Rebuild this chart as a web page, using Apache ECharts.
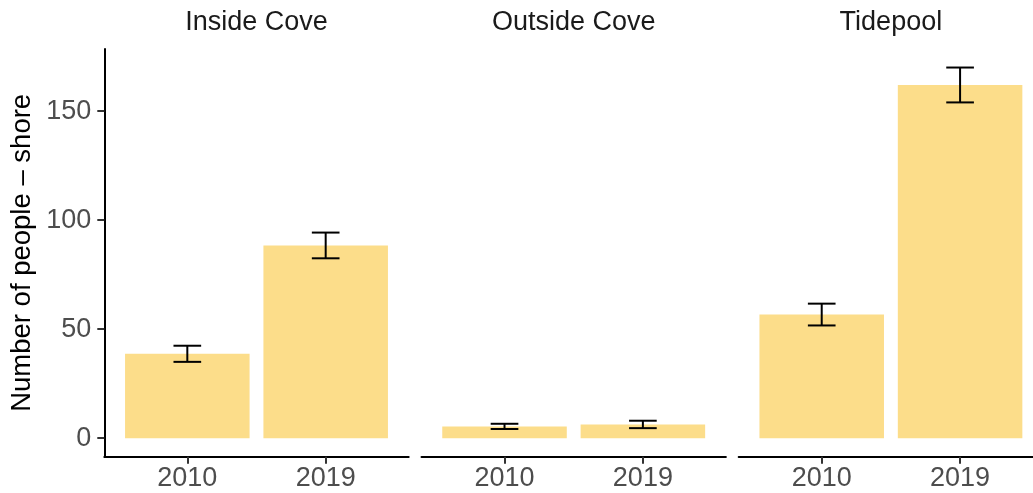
<!DOCTYPE html>
<html>
<head>
<meta charset="utf-8">
<script src="https://cdn.jsdelivr.net/npm/echarts@6/dist/echarts.min.js"></script>
<style>
  html, body { margin: 0; padding: 0; background: #fff; }
  #chart { width: 1033px; height: 493px; }
</style>
</head>
<body>
<div id="chart"></div>
<script>
// Facet panels and year categories
const sites = ['Inside Cove', 'Outside Cove', 'Tidepool'];
const years = ['2010', '2019'];

// Mean number of people on shore, with standard error, per site
const meanInsideCove = [38.7, 88.4];
const seInsideCove = [3.7, 5.9];
const meanOutsideCove = [5.4, 6.3];
const seOutsideCove = [1.2, 1.7];
const meanTidepool = [56.7, 162.0];
const seTidepool = [5.0, 8.0];

// Y tick labels
const yTicks = [0, 50, 100, 150];

const means = [meanInsideCove, meanOutsideCove, meanTidepool];
const ses = [seInsideCove, seOutsideCove, seTidepool];

// Shared y range: data extent plus 5% padding on both sides
let maxTop = 0;
means.forEach((m, i) => m.forEach((v, j) => { maxTop = Math.max(maxTop, v + ses[i][j]); }));
const pad = 0.05 * maxTop;
const yMin = -pad, yMax = maxTop + pad;

// Discrete positions 1..n, with 0.6 of a band of padding at each end
const xMin = 0.4, xMaxFull = years.length + 0.6;
const xPos = years.map((_, j) => j + 1);

const FONT = '"Liberation Sans", Arial, Helvetica, sans-serif';
const BAR_COLOR = '#FCDD8A';
const W = 1033, H = 493;

const panelLeft = [104.3, 421.5, 738.7];
const panelWidth = 304.4;
const gridTop = 49, gridBottom = H - 456.7;
const bandPx = panelWidth / (xMaxFull - xMin);

const grids = [], xAxes = [], yAxes = [], series = [], titles = [];

sites.forEach((site, i) => {
  // the last panel is cut off by the right edge: shorten its grid and its x range alike
  const visibleWidth = Math.min(panelWidth, W - panelLeft[i]);
  const xMax = xMin + visibleWidth / bandPx;
  grids.push({ left: panelLeft[i], width: visibleWidth, top: gridTop, bottom: gridBottom, containLabel: false });
  titles.push({
    text: site,
    left: panelLeft[i] + panelWidth / 2,
    top: 9,
    textAlign: 'center',
    padding: 0,
    textStyle: { fontFamily: FONT, fontSize: 27, fontWeight: 'normal', color: '#1a1a1a' }
  });
  xAxes.push({
    type: 'value', gridIndex: i, min: xMin, max: xMax,
    axisLine: { show: true, onZero: false, lineStyle: { color: '#000', width: 2 } },
    axisTick: { show: true, customValues: xPos, length: 7, lineStyle: { color: '#333', width: 2 } },
    axisLabel: {
      show: true, customValues: xPos, margin: 8,
      formatter: v => years[Math.round(v) - 1],
      fontFamily: FONT, fontSize: 27, color: '#4d4d4d'
    },
    splitLine: { show: false }
  });
  const firstPanel = i === 0;
  yAxes.push({
    type: 'value', gridIndex: i, min: yMin, max: yMax,
    show: firstPanel,
    name: firstPanel ? 'Number of people – shore' : '',
    nameLocation: 'middle', nameGap: 68,
    nameTextStyle: { fontFamily: FONT, fontSize: 27.5, color: '#000' },
    axisLine: { show: firstPanel, onZero: false, lineStyle: { color: '#000', width: 2 } },
    axisTick: { show: firstPanel, customValues: yTicks, length: 7, lineStyle: { color: '#333', width: 2 } },
    axisLabel: {
      show: firstPanel, customValues: yTicks, margin: 13,
      fontFamily: FONT, fontSize: 27, color: '#4d4d4d'
    },
    splitLine: { show: false }
  });
  series.push({
    type: 'bar', xAxisIndex: i, yAxisIndex: i,
    barWidth: 0.9 * bandPx,
    itemStyle: { color: BAR_COLOR },
    data: xPos.map((x, j) => [x, means[i][j]]),
    silent: true, animation: false
  });
  series.push({
    type: 'custom', xAxisIndex: i, yAxisIndex: i,
    data: xPos.map((x, j) => [x, means[i][j] - ses[i][j], means[i][j] + ses[i][j]]),
    encode: { x: 0, y: [1, 2] },
    renderItem: (params, api) => {
      const x = api.value(0);
      const top = api.coord([x, api.value(2)]);
      const bot = api.coord([x, api.value(1)]);
      const l = api.coord([x - 0.1, 0])[0];
      const r = api.coord([x + 0.1, 0])[0];
      const st = { stroke: '#000', lineWidth: 2 };
      return {
        type: 'group',
        children: [
          { type: 'line', shape: { x1: top[0], y1: top[1], x2: bot[0], y2: bot[1] }, style: st },
          { type: 'line', shape: { x1: l, y1: top[1], x2: r, y2: top[1] }, style: st },
          { type: 'line', shape: { x1: l, y1: bot[1], x2: r, y2: bot[1] }, style: st }
        ]
      };
    },
    z: 5, silent: true, animation: false
  });
});

const chart = echarts.init(document.getElementById('chart'), null, { renderer: 'canvas' });
chart.setOption({
  backgroundColor: '#fff',
  animation: false,
  title: titles,
  grid: grids,
  xAxis: xAxes,
  yAxis: yAxes,
  series: series
});
</script>
</body>
</html>
